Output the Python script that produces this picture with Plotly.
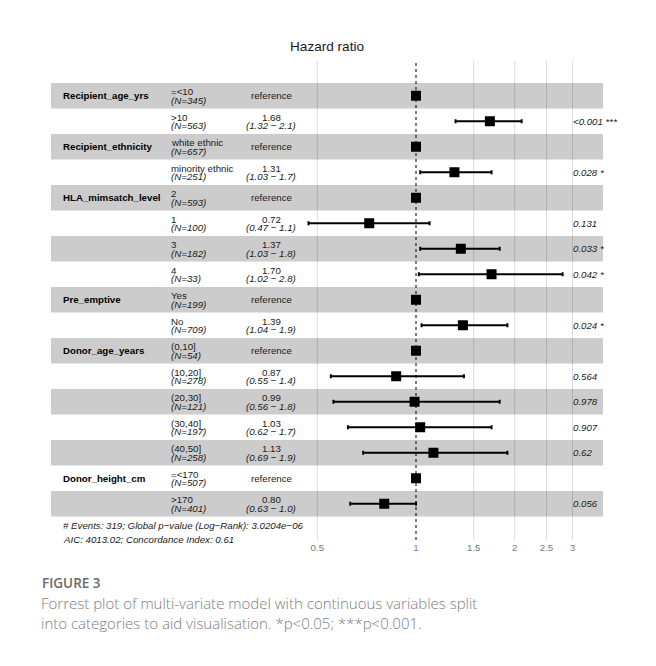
import math
import plotly.graph_objects as go

# ---- model output (one row per factor level) ----
row_variable = ["Recipient_age_yrs", "", "Recipient_ethnicity", "", "HLA_mimsatch_level", "", "", "",
                "Pre_emptive", "", "Donor_age_years", "", "", "", "", "Donor_height_cm", ""]
levels = ["=<10", ">10", "white ethnic", "minority ethnic", "2", "1", "3", "4", "Yes", "No",
          "(0,10]", "(10,20]", "(20,30]", "(30,40]", "(40,50]", "=<170", ">170"]
n_obs = [345, 563, 657, 251, 593, 100, 182, 33, 199, 709, 54, 278, 121, 197, 258, 507, 401]
hazard_ratio = [1, 1.68, 1, 1.31, 1, 0.72, 1.37, 1.70, 1, 1.39, 1, 0.87, 0.99, 1.03, 1.13, 1, 0.80]
ci_low = [None, 1.32, None, 1.03, None, 0.47, 1.03, 1.02, None, 1.04, None, 0.55, 0.56, 0.62, 0.69, None, 0.63]
ci_high = [None, 2.1, None, 1.7, None, 1.1, 1.8, 2.8, None, 1.9, None, 1.4, 1.8, 1.7, 1.9, None, 1.0]
p_label = ["", "<0.001 ***", "", "0.028 *", "", "0.131", "0.033 *", "0.042 *", "", "0.024 *", "",
           "0.564", "0.978", "0.907", "0.62", "", "0.056"]
tick_values = [0.5, 1, 1.5, 2, 2.5, 3]
tick_labels = ["0.5", "1", "1.5", "2", "2.5", "3"]
footer_lines = ["# Events: 319; Global p\u2212value (Log\u2212Rank): 3.0204e\u221206",
                "AIC: 4013.02; Concordance Index: 0.61"]

# ---- page geometry ----
W, H = 656, 666
FONT = "Liberation Sans, Arial, Helvetica, sans-serif"
CAP_FONT = "Open Sans, Noto Sans, sans-serif"
FS = 9.7

band_left, band_right = 51, 603          # px extent of the row bands
px_at_one, px_per_decade = 416, 327.9    # log-scale placement of the HR axis
rows_top, row_h = 83, 25.5               # px
grid_top, grid_bottom = 61, 540          # px


def xp(px):
    return px / W


def yp(px):
    return 1 - px / H


n_rows = len(levels)
rows = list(range(n_rows))

x_lo = (band_left - px_at_one) / px_per_decade
x_hi = (band_right - px_at_one) / px_per_decade
y_top_val = (grid_top - rows_top) / row_h - 0.5
y_bot_val = (grid_bottom - rows_top) / row_h - 0.5

err_plus = [(h - e) if h is not None else 0 for e, h in zip(hazard_ratio, ci_high)]
err_minus = [(e - l) if l is not None else 0 for e, l in zip(hazard_ratio, ci_low)]

fig = go.Figure()
fig.add_trace(go.Scatter(
    x=hazard_ratio, y=rows, mode="markers",
    marker=dict(symbol="square", size=10, color="black", line=dict(width=0)),
    error_x=dict(type="data", symmetric=False, array=err_plus, arrayminus=err_minus,
                 color="black", thickness=2, width=2),
    hoverinfo="skip", showlegend=False, cliponaxis=False,
))

shapes = []
# alternating grey bands
for r in rows:
    if r % 2 == 0:
        shapes.append(dict(type="rect", xref="x domain", yref="y", x0=0, x1=1,
                           y0=r - 0.5, y1=r + 0.5, fillcolor="#cccccc",
                           line=dict(width=0), layer="below"))
# vertical reference grid
for v in tick_values:
    if v != 1:
        shapes.append(dict(type="line", xref="x", yref="y domain", x0=v, x1=v, y0=0, y1=1,
                           line=dict(color="rgba(0,0,0,0.14)", width=1), layer="below"))
# line of no effect
shapes.append(dict(type="line", xref="x", yref="y domain", x0=1, x1=1, y0=0, y1=1,
                   line=dict(color="black", width=1, dash="dot"), layer="below"))

ann = []


def text(x, y, s, size=FS, anchor="left", yref="y", yshift=0, color="black",
         family=FONT, weight=None, style=None):
    f = dict(family=family, size=size, color=color)
    if weight is not None:
        f["weight"] = weight
    if style is not None:
        f["style"] = style
    ann.append(dict(x=x, y=y, xref="paper", yref=yref, text=s, showarrow=False,
                    xanchor=anchor, yanchor="middle", yshift=yshift, font=f, borderpad=0))


for r in rows:
    if row_variable[r]:
        text(xp(62), r, row_variable[r], weight="bold")
    text(xp(170), r, levels[r], yshift=4.2, color="#1a1a1a")
    text(xp(170), r, f"(N={n_obs[r]})", yshift=-4.6, color="#1a1a1a", style="italic")
    if ci_low[r] is None:
        text(xp(271), r, "reference", anchor="center", color="#1a1a1a")
    else:
        text(xp(271), r, f"{hazard_ratio[r]:.2f}", anchor="center", yshift=4.2, color="#1a1a1a")
        text(xp(271), r, f"({ci_low[r]:.2f} \u2212 {ci_high[r]:.1f})", anchor="center",
             yshift=-4.6, color="#1a1a1a", style="italic")
    if p_label[r]:
        text(xp(572), r, p_label[r], color="#222222", style="italic")

text(xp(62), yp(525.5), footer_lines[0], yref="paper", color="#1a1a1a", style="italic")
text(xp(62), yp(539), footer_lines[1], yref="paper", color="#1a1a1a", style="italic")

text(xp(327), yp(46.5), "Hazard ratio", size=13.6, anchor="center", yref="paper", color="#1a1a1a")

# figure caption
text(xp(41), yp(583), "FIGURE 3", size=13.5, yref="paper", color="#6a6a6a",
     family=CAP_FONT, weight=600)
text(xp(40), yp(602.5), "Forrest plot of multi-variate model with continuous variables split",
     size=15, yref="paper", color="#7d7d7d", family=CAP_FONT, weight=300)
text(xp(40), yp(623), "into categories to aid visualisation. *p<0.05; ***p<0.001.",
     size=15, yref="paper", color="#7d7d7d", family=CAP_FONT, weight=300)

fig.update_layout(
    width=W, height=H, margin=dict(l=0, r=0, t=0, b=0),
    paper_bgcolor="white", plot_bgcolor="rgba(0,0,0,0)",
    shapes=shapes, annotations=ann, showlegend=False,
    xaxis=dict(type="log", domain=[xp(band_left), xp(band_right)], range=[x_lo, x_hi],
               tickvals=tick_values, ticktext=tick_labels, showgrid=False, zeroline=False,
               showline=False, ticks="", tickfont=dict(family=FONT, size=FS, color="#7a7a7a"),
               fixedrange=True),
    yaxis=dict(domain=[yp(grid_bottom), yp(grid_top)], range=[y_bot_val, y_top_val],
               showgrid=False, zeroline=False, showline=False, showticklabels=False,
               ticks="", fixedrange=True),
)

fig.write_html("out.html")
